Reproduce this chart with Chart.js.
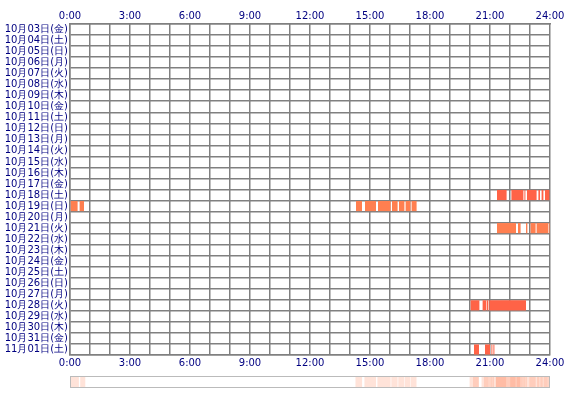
<!DOCTYPE html>
<html><head><meta charset="utf-8">
<script src="https://cdn.jsdelivr.net/npm/chart.js@4/dist/chart.umd.min.js"></script>
<style>
body{margin:0;background:#fff;}
#main{position:absolute;left:0;top:0;width:570px;height:372px;}
#strip{position:absolute;left:70px;top:376px;width:478px;height:10px;border:1px solid #bbb;}
</style></head><body>
<div id="main"><canvas id="c1"></canvas></div>
<div id="strip"><canvas id="c2"></canvas></div>
<script>
const days = ['10月03日(金)','10月04日(土)','10月05日(日)','10月06日(月)','10月07日(火)','10月08日(水)','10月09日(木)',
  '10月10日(金)','10月11日(土)','10月12日(日)','10月13日(月)','10月14日(火)','10月15日(水)','10月16日(木)',
  '10月17日(金)','10月18日(土)','10月19日(日)','10月20日(月)','10月21日(火)','10月22日(水)','10月23日(木)',
  '10月24日(金)','10月25日(土)','10月26日(日)','10月27日(月)','10月28日(火)','10月29日(水)','10月30日(木)',
  '10月31日(金)','11月01日(土)'];
const hourTicks = ['0:00','3:00','6:00','9:00','12:00','15:00','18:00','21:00','24:00'];

// [start hour, end hour] per active day
const oct18 = [[21.35,21.83],[22.07,22.67],[22.72,22.77],[22.85,23.33],[23.42,23.5],[23.58,23.67],[23.75,23.97]];
const oct19 = [[0,0.38],[0.48,0.7],[14.3,14.6],[14.75,15.3],[15.4,16.03],[16.1,16.38],[16.45,16.72],[16.78,17.02],[17.08,17.33]];
const oct21 = [[21.35,22.3],[22.4,22.53],[22.8,22.87],[23.03,23.28],[23.33,23.92],[23.97,24]];
const oct28 = [[20.03,20.47],[20.63,20.8],[20.83,20.92],[20.97,22.8]];
const nov01 = [[20.2,20.45],[20.75,21.0],[21.07,21.12],[21.17,21.22]];

const rows = [
  {day:'10月18日(土)', segs:oct18, color:'#ff6347'},
  {day:'10月19日(日)', segs:oct19, color:'#ff7f50'},
  {day:'10月21日(火)', segs:oct21, color:'#ff7f50'},
  {day:'10月28日(火)', segs:oct28, color:'#ff6347'},
  {day:'11月01日(土)', segs:nov01, color:'#ff6347'}
];

const pts = [], cols = [], all = [];
rows.forEach(r => r.segs.forEach(s => { pts.push({x:s, y:r.day}); cols.push(r.color); all.push({x:s, y:'all'}); }));

const navy = '#000080';
const tickFont = {family:'DejaVu Sans', size:10};
const xTicks = {stepSize:1, autoSkip:false, maxRotation:0, color:navy, font:tickFont, padding:2,
  callback:v => v % 3 === 0 ? hourTicks[v/3] : ''};

new Chart(document.getElementById('c1'), {
  type:'bar',
  data:{labels:days, datasets:[{data:pts, backgroundColor:cols, barPercentage:1, categoryPercentage:0.92, grouped:false}]},
  options:{
    indexAxis:'y', responsive:true, maintainAspectRatio:false, animation:false,
    layout:{padding:{right:20, left:0, top:0, bottom:0}},
    plugins:{legend:{display:false}, tooltip:{enabled:false}},
    scales:{
      x:{type:'linear', min:0, max:24, position:'bottom', ticks:xTicks,
        grid:{color:'#808080', lineWidth:1.5, drawTicks:false}, border:{color:'#808080', width:1.5},
        afterFit:s => { s.height = 17; }},
      x2:{type:'linear', min:0, max:24, position:'top', ticks:xTicks,
        grid:{display:false, drawTicks:false}, border:{color:'#808080', width:1.5},
        afterFit:s => { s.height = 24; }},
      y:{type:'category', ticks:{color:navy, font:tickFont, padding:2, autoSkip:false},
        grid:{color:'#808080', lineWidth:1.5, drawTicks:false}, border:{color:'#808080', width:1.5},
        afterFit:s => { s.width = 70; }}
    }
  }
});

new Chart(document.getElementById('c2'), {
  type:'bar',
  data:{labels:['all'], datasets:[{data:all, backgroundColor:'rgba(255,127,80,0.22)', barPercentage:1, categoryPercentage:1, grouped:false}]},
  options:{
    indexAxis:'y', responsive:true, maintainAspectRatio:false, animation:false,
    plugins:{legend:{display:false}, tooltip:{enabled:false}},
    scales:{x:{type:'linear', min:0, max:24, display:false}, y:{display:false}}
  }
});
</script>
</body></html>
